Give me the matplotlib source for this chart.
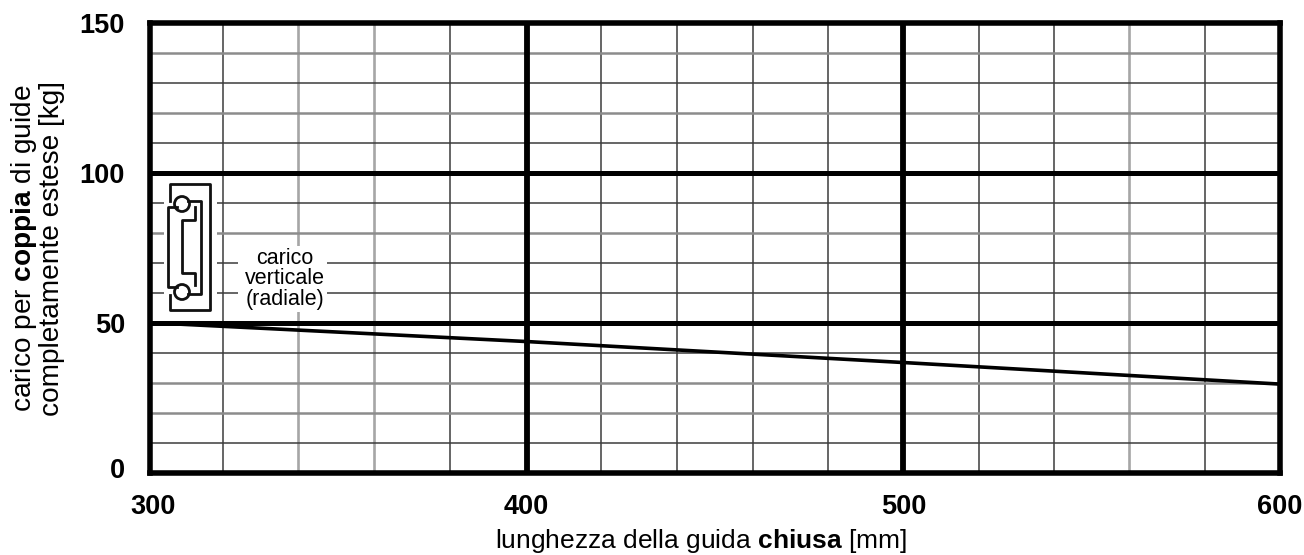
import matplotlib
matplotlib.use("Agg")
import matplotlib.pyplot as plt
from matplotlib.patches import Circle, Rectangle
from matplotlib.transforms import ScaledTranslation

plt.rcParams['font.family'] = ['Liberation Sans', 'DejaVu Sans']
plt.rcParams['mathtext.fontset'] = 'custom'
plt.rcParams['mathtext.rm'] = 'Liberation Sans'
plt.rcParams['mathtext.bf'] = 'Liberation Sans:bold'

# Data
lengths = [300, 400, 500, 600]
loads = [50, 43.7, 36.7, 29.5]
x_major = [400, 500]
y_major = [50, 100]
x_dark = [319.3, 379.7, 419.8, 439.8, 460, 480, 520, 540, 580]
x_grey = [339.2, 359.5, 560]
y_dark = [10, 40, 60, 70, 90, 110, 130]
y_grey = [20, 30, 80, 120, 140]
x_ticks = [300, 400, 500, 600]
y_ticks = [0, 50, 100, 150]

W, H = 1304, 555
L, R, T, B = 150, 1280, 23, 472.5

fig = plt.figure(figsize=(W / 100, H / 100), dpi=100)
ax = fig.add_axes([L / W, 1 - B / H, (R - L) / W, (B - T) / H])

# scanned look: most grid lines dark and thin, a few grey and wider
for x in x_dark:
    ax.axvline(x, color='#3c3c3c', lw=1.1, zorder=1)
for x in x_grey:
    ax.axvline(x, color='#a6a6a6', lw=1.9, zorder=1)
for y in y_dark:
    ax.axhline(y, color='#3c3c3c', lw=1.1, zorder=1)
for y in y_grey:
    ax.axhline(y, color='#8c8c8c', lw=1.8, zorder=1)
for x in x_major:
    ax.axvline(x, color='black', lw=4.2, zorder=2)
for y in y_major:
    ax.axhline(y, color='black', lw=3.6, zorder=2)

ax.plot(lengths, loads, color='black', lw=2.6, zorder=3)

ax.set_xlim(300, 600)
ax.set_ylim(0, 150)
for s in ax.spines.values():
    s.set_linewidth(4)
    s.set_zorder(5)

ax.set_xticks(x_ticks)
ax.set_yticks(y_ticks)
ax.tick_params(length=0, labelsize=19.5)
for t in ax.get_xticklabels() + ax.get_yticklabels():
    t.set_fontweight('bold')
ax.tick_params(axis='x', pad=15.5)
ax.tick_params(axis='y', pad=18)

# first x label sits a little right of its tick, "0" a little above
first = ax.get_xticklabels()[0]
first.set_transform(first.get_transform() + ScaledTranslation(3 / 100, 0, fig.dpi_scale_trans))
zero = ax.get_yticklabels()[0]
zero.set_transform(zero.get_transform() + ScaledTranslation(0, 4 / 100, fig.dpi_scale_trans))

fig.text(701 / W, 1 - 541 / H, 'lunghezza della guida $\\mathbf{chiusa}$ [mm]',
         ha='center', va='center', fontsize=19)
fig.text(37 / W, 1 - 248 / H, 'carico per $\\mathbf{coppia}$ di guide\ncompletamente estese [kg]',
         ha='center', va='center', rotation=90, fontsize=20.2, linespacing=1.03)

# bearing section drawn in figure pixels, above the grid
ov = fig.add_axes([0, 0, 1, 1], zorder=10)
ov.set_xlim(0, W)
ov.set_ylim(H, 0)
ov.axis('off')
ov.patch.set_alpha(0)
ov.add_patch(Rectangle((164, 177), 53, 139, fc='white', ec='none'))
ov.add_patch(Rectangle((238, 246), 89, 66, fc='white', ec='none'))
ov.plot([170, 170, 210, 210, 170, 170], [201, 184, 184, 310, 310, 295], color='#111111', lw=2)
ov.plot([177, 168, 168, 177], [207, 207, 287, 287], color='#111111', lw=2)
ov.plot([188, 201, 201, 188], [201, 201, 294, 294], color='#111111', lw=2)
ov.plot([195, 195, 182, 182, 195, 195], [207, 220, 220, 273, 273, 285], color='#111111', lw=2)
ov.add_patch(Circle((182, 204), 7.5, fc='white', ec='#111111', lw=2))
ov.add_patch(Circle((182, 292), 7.5, fc='white', ec='#111111', lw=2))
ov.text(285, 279, 'carico\nverticale\n(radiale)', ha='center', va='center', fontsize=15.5, linespacing=1.0)

fig.savefig('out.png', dpi=100)
